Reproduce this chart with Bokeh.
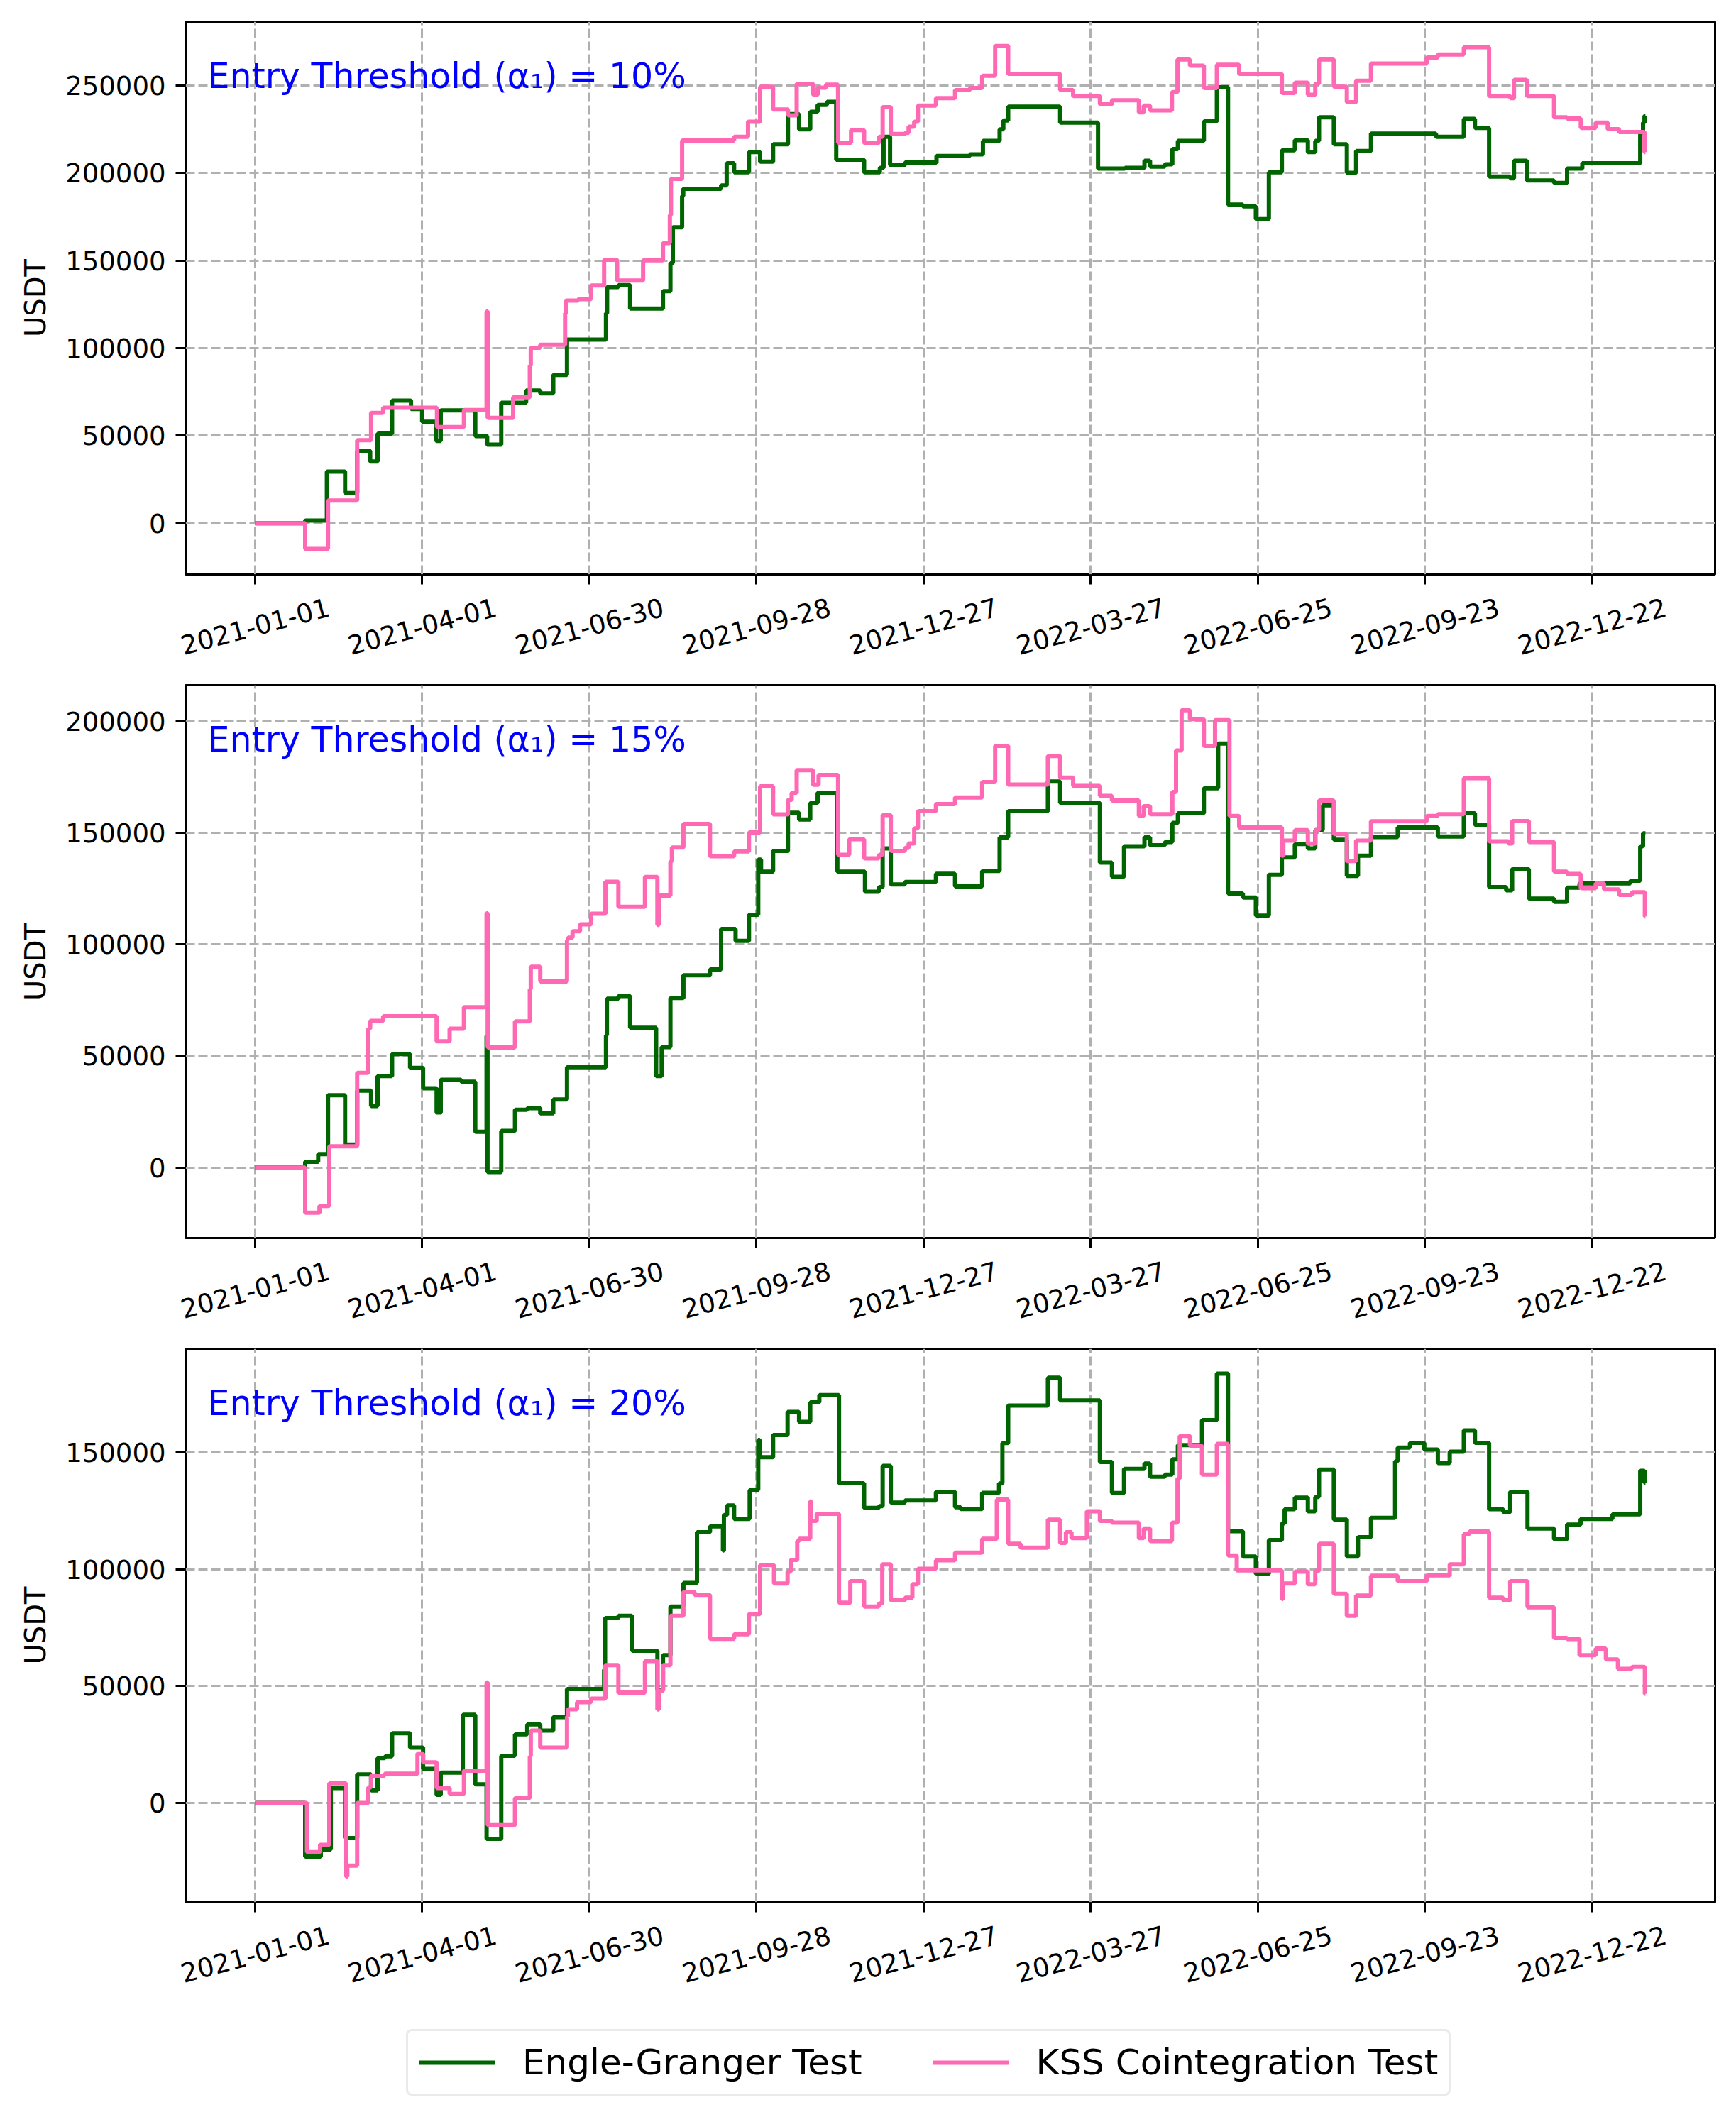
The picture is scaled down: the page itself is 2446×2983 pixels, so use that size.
import math
import numpy as np
import pandas as pd
from bokeh.plotting import figure
from bokeh.models import (Range1d, FixedTicker, SingleIntervalTicker, BasicTickFormatter,
                          CustomJSTickFormatter, Label, LinearAxis, Legend, LegendItem)
from bokeh.layouts import column
from bokeh.embed import file_html
from bokeh.resources import INLINE

# ---------------- data (day offset from START, USDT) ----------------
START = "2021-01-01"
TICK_LABELS = ["2021-01-01", "2021-04-01", "2021-06-30", "2021-09-28", "2021-12-27",
               "2022-03-27", "2022-06-25", "2022-09-23", "2022-12-22"]
THRESHOLDS = ["10%", "15%", "20%"]
SERIES_NAMES = ["Engle-Granger Test", "KSS Cointegration Test"]

EG_10 = [(0, 0), (27, 1500), (38.7, 29500), (48.5, 17200), (55, 41400), (62, 35300), (66, 51200),
         (73.8, 70000), (84, 65300), (90, 58000), (97.5, 47000), (100, 64400), (118.6, 49800),
         (125, 44900), (132.6, 68800), (146, 75800), (153.6, 74200), (160.6, 84700), (168, 104900),
         (189, 120000), (189.6, 134900), (195.7, 136000), (202, 122600), (219.7, 132600),
         (223.7, 148600), (225, 169000), (230, 187000), (230.6, 191000), (251, 193000),
         (254, 205600), (258, 200500), (266, 212000), (272, 206500), (279, 216500), (287, 233700),
         (293, 225000), (299, 235000), (303, 239000), (308, 240700), (313, 207700), (328, 200500),
         (336.5, 203000), (338.5, 220700), (342, 204500), (350, 206000), (367, 209800),
         (385, 210700), (392, 218400), (401, 225000), (403, 230000), (405.6, 238000),
         (433.6, 228800), (454, 202600), (468.5, 203000), (479, 207000), (482, 203700),
         (490, 205000), (494, 213700), (497, 218400), (511, 229500), (518, 249000), (524, 182000),
         (532, 181000), (539, 173700), (546, 200500), (553, 213000), (560, 218800), (567, 212000),
         (571, 218400), (573, 231900), (581, 216500), (588, 200200), (593, 212600), (601, 222600),
         (636, 220700), (651, 231000), (657, 225800), (664.6, 198000), (676, 197000),
         (678, 207000), (685, 195800), (699.6, 194400), (706.6, 202600), (714.8, 205600),
         (746, 223000), (747.5, 228800), (748.3, 232800), (748.8, 232800)]

KSS_10 = [(0, 0), (27, -14700), (39.3, 13000), (55, 47400), (62.5, 63000), (69, 66000), (98, 54900),
          (112.5, 64700), (124.7, 121000), (125.3, 60200), (139, 71900), (148, 90000),
          (148.5, 100200), (153.6, 101900), (167, 120000), (167.5, 127200), (174, 128000),
          (181, 135800), (188, 150500), (195, 138600), (209, 150200), (219.7, 160000),
          (223.4, 176000), (224, 196700), (230, 218600), (258, 220700), (265.5, 229300),
          (272, 249300), (279, 236300), (287, 233000), (291.7, 251000), (300.6, 244600),
          (303, 248800), (307.5, 250500), (314, 217400), (321, 224600), (328, 217200),
          (336, 220700), (338, 237700), (342.4, 222300), (350, 223000), (352, 226500),
          (355, 229300), (357, 238600), (366.7, 242800), (377, 247400), (385, 248600),
          (391.6, 255600), (398.6, 272600), (405.6, 256700), (433.6, 247400), (440.6, 244000),
          (455, 239300), (461.5, 241600), (476, 234700), (478.6, 238600), (482, 235800),
          (493.8, 246300), (496.8, 264900), (503.5, 261400), (511, 248600), (518, 261900),
          (530, 256700), (553, 245800), (560, 251600), (567, 244700), (571, 251000),
          (573, 264900), (581, 249300), (588, 240500), (593, 252800), (601, 262600),
          (631, 266000), (637, 267700), (651, 271900), (664.6, 244000), (676, 242800),
          (678, 253300), (685, 244000), (699.6, 231900), (706.6, 231200), (714, 225800),
          (722, 228800), (728.5, 225100), (734.6, 223500), (748.3, 212000), (748.8, 212000)]

EG_15 = [(0, 0), (27, 2600), (34, 6000), (39.3, 32400), (48.5, 10300), (55, 34500), (62.5, 27600),
         (66, 41000), (73.8, 50900), (83.5, 44700), (90.5, 35500), (97.8, 24700), (100, 39300),
         (111, 38500), (118.6, 16000), (124.7, 59000), (125.2, -2000), (132.6, 16400),
         (140, 25900), (146.6, 26600), (153.6, 24300), (160.6, 30500), (168, 45000),
         (189, 59300), (189.5, 75700), (195.7, 76900), (202, 62600), (216, 41000), (219, 54000),
         (223.7, 76000), (230.7, 86200), (245, 88800), (251, 106900), (258.8, 101600),
         (266, 113300), (271, 138000), (272.5, 132600), (279, 141900), (287, 159000),
         (293, 156000), (299, 163400), (303, 168000), (313.6, 132600), (328.5, 123600),
         (336, 125700), (338, 143000), (342.4, 126900), (350, 128000), (366.7, 131700),
         (377, 126000), (391.6, 132900), (401, 148000), (405.6, 159700), (427, 173000),
         (433.6, 163400), (455, 136700), (461.5, 130300), (468, 144000), (479, 148000),
         (482, 144500), (490, 145900), (494, 154500), (497, 158800), (511, 170000),
         (518.7, 190000), (524, 122800), (532, 121000), (539, 112900), (546, 131200),
         (553, 139000), (560, 145000), (567, 143000), (571, 151200), (575, 162400),
         (581, 146900), (588, 130700), (594, 139800), (601, 148100), (615.4, 152400),
         (637, 148400), (651, 158800), (657, 153600), (664.6, 125700), (673.8, 124300),
         (677, 133800), (686, 120500), (699.6, 119100), (706.6, 125500), (713.3, 127400),
         (740.7, 128600), (746, 144000), (747.5, 149800), (748.8, 149800)]

KSS_15 = [(0, 0), (27, -20200), (34.7, -17200), (40, 9500), (55, 42400), (61, 62200), (62, 65700),
          (69, 67800), (97.8, 56600), (104.8, 62200), (112.5, 71900), (124.7, 114000),
          (125.3, 53800), (140, 65500), (148, 80000), (148.5, 90000), (153.6, 83400),
          (168, 102000), (168.5, 103000), (171, 105900), (175, 109000), (181, 113800),
          (188.7, 128100), (195.7, 116900), (210, 130200), (216.7, 108800), (217.5, 121900),
          (223.7, 137200), (224.5, 143400), (230.7, 154000), (245, 139500), (258, 141700),
          (266, 150200), (272, 170900), (279, 158300), (287, 164800), (289, 168000),
          (291.7, 178100), (300.5, 171600), (303.5, 176000), (314, 140200), (320, 147200),
          (328, 138600), (336, 140200), (338, 158000), (342.4, 141900), (350, 143300),
          (352, 145300), (355, 152000), (357, 159700), (366.7, 162900), (377, 165900),
          (391.6, 172800), (398.6, 189000), (405.6, 171700), (427, 184500), (433.6, 174800),
          (440.6, 171000), (455, 166600), (461.5, 164500), (476, 157600), (478.6, 162000),
          (482, 158400), (494, 168300), (496, 186900), (499, 205000), (503.5, 201000),
          (511, 189000), (517, 200500), (524.8, 157600), (530, 152400), (553, 139800),
          (553.8, 146500), (560, 151200), (567, 145200), (571, 151200), (573, 164500),
          (581, 149500), (588, 137400), (593, 146500), (601, 155200), (631, 157600),
          (637, 158400), (651, 174500), (664.6, 146200), (675, 145300), (677, 155300),
          (686, 145900), (699.6, 132600), (706.6, 131600), (714, 125200), (722, 127400),
          (726.5, 124700), (734.6, 122200), (741.5, 123400), (748.5, 112600), (748.8, 112600)]

EG_20 = [(0, 0), (27, -22900), (35.4, -19900), (40.8, 6400), (48.5, -15000), (55, 12200),
         (62.5, 5400), (66, 19200), (70, 20000), (73.8, 29800), (83.5, 23700), (90.5, 14600),
         (97.8, 3500), (100, 13000), (111.9, 37700), (118.6, 8000), (124.7, -15300),
         (132.6, 20200), (140, 29400), (146.6, 33600), (153.6, 31000), (160.6, 36700),
         (168, 48700), (188, 57000), (188.5, 79100), (195.7, 80100), (203, 65100),
         (216.7, 48400), (219.7, 63200), (223.7, 84000), (230.7, 94100), (238, 115800),
         (245, 118300), (252, 108000), (252.5, 123200), (254.2, 127300), (258, 121500),
         (266.4, 133900), (271, 155300), (271.8, 147900), (279, 157400), (286.8, 167300),
         (293, 163000), (299, 171400), (303.9, 174500), (314.5, 136800), (328, 126200),
         (336, 127000), (338, 144200), (342.4, 128500), (350, 129400), (366.7, 133100),
         (377, 126500), (380, 125800), (391.6, 132700), (400.7, 136700), (402.5, 154000),
         (405.6, 170000), (427, 181900), (433.6, 172200), (455, 145900), (461.5, 132600),
         (468, 142900), (479, 145200), (482, 139600), (490, 140500), (494, 147000),
         (497, 153100), (510, 163800), (518, 183700), (524, 116300), (532, 105400), (539, 98000),
         (546, 112500), (553, 119600), (554.5, 125700), (560, 130600), (567, 124800),
         (571, 130900), (573, 142600), (581, 121200), (588, 105400), (594, 113700),
         (601, 122000), (614, 146200), (615.4, 152000), (622, 154100), (629.7, 151200),
         (637, 145400), (643.4, 150300), (651, 159400), (657, 154100), (664.6, 125700),
         (672.2, 124500), (676, 133100), (685.3, 117400), (699.6, 112800), (706.6, 119100),
         (713.9, 121500), (731, 123500), (746, 142100), (748.3, 137000), (748.8, 137000)]

KSS_20 = [(0, 0), (28, -21000), (35, -17900), (40, 8400), (49, -31400), (49.7, -26800), (55, 0),
          (61, 6700), (62.5, 11700), (69.8, 12500), (87.5, 21200), (90.5, 17400), (97.8, 6400),
          (104.8, 3900), (112.5, 13800), (124.7, 51500), (125.3, -9500), (140, 2100),
          (148, 20000), (148.5, 31000), (153.6, 23700), (168, 37000), (168.5, 40100),
          (173.4, 43100), (181, 44600), (188.7, 59000), (195.7, 47200), (210, 60700),
          (216.7, 40000), (217.5, 48000), (219.7, 59000), (223.7, 80100), (230.7, 90300),
          (236.7, 89000), (245, 70200), (258, 72200), (266, 80800), (272, 101800),
          (279.5, 93900), (286.8, 99000), (288.5, 104000), (292, 112000), (293, 113000),
          (299, 129000), (299.5, 120700), (302.5, 123700), (314.5, 85700), (320.6, 94900),
          (328, 84000), (336, 85400), (337.8, 102100), (342.4, 86700), (350, 87800),
          (354, 93600), (357, 100200), (366.7, 103800), (377, 107100), (391.6, 113000),
          (399.5, 129800), (405.6, 110900), (412.3, 109200), (427, 121200), (433.6, 111300),
          (436.7, 115800), (439.7, 113300), (448, 124800), (455, 120700), (461.5, 119900),
          (476, 113300), (478.6, 117400), (482, 112000), (493.8, 119900), (496.8, 138800),
          (498, 157000), (503.5, 152800), (510, 140500), (518, 153600), (524, 105900),
          (528.7, 99500), (553, 87300), (553.6, 93900), (560, 99000), (567, 93600),
          (571, 99300), (573, 110900), (581, 89500), (588, 80100), (593, 88700), (601, 97200),
          (615.4, 94900), (631, 97400), (643.4, 102100), (651, 115000), (654, 116100),
          (664.6, 87800), (672.2, 86700), (676, 94900), (685.3, 83700), (699.6, 70600),
          (706.6, 70100), (713.3, 63200), (722, 66000), (727.5, 61400), (734, 57400),
          (741.5, 58200), (748.5, 46700), (748.8, 46700)]

Y_RANGES = [(-29300, 286500), (-31600, 216200), (-42500, 194300)]
X_RANGE_DAYS = (-37.4, 786.3)

# ---------------- styling ----------------
FONT = "DejaVu Sans"
GREEN = "#006400"
PINK = "#ff69b4"
FRAME_W = 2155
BORDER_L, BORDER_R = 261, 22
LINE_W = 6
TICK_FONT = "37px"
LABEL_SHIFT_DAYS = 39.7      # rotated labels are right-anchored in Bokeh; shift to centre them
DAY_MS = 86400000.0

start_ts = pd.Timestamp(START)
epoch = pd.Timestamp("1970-01-01")


def to_dates(days):
    return start_ts + pd.to_timedelta(np.asarray(days, dtype=float), unit="D")


def make_panel(eg, kss, thr, yr, frame_h, border_t, border_b):
    p = figure(x_axis_type="datetime", frame_width=FRAME_W, frame_height=frame_h,
               min_border_left=BORDER_L, min_border_right=BORDER_R,
               min_border_top=border_t, min_border_bottom=border_b,
               x_range=Range1d(start_ts + pd.Timedelta(days=X_RANGE_DAYS[0]),
                               start_ts + pd.Timedelta(days=X_RANGE_DAYS[1])),
               y_range=Range1d(*yr), toolbar_location=None, output_backend="svg",
               background_fill_color="white", border_fill_color="white")
    for series, color in ((eg, GREEN), (kss, PINK)):
        d, v = zip(*series)
        p.step(to_dates(d), list(v), mode="after", line_color=color, line_width=LINE_W)

    tick_ms = [(pd.Timestamp(t) - epoch).total_seconds() * 1000.0 for t in TICK_LABELS]
    # axis carrying the tick marks
    p.xaxis.ticker = FixedTicker(ticks=tick_ms, minor_ticks=[])
    p.xaxis.formatter = CustomJSTickFormatter(code="return '';")
    p.xaxis.major_label_text_font_size = "1px"
    p.xaxis.major_label_standoff = 0
    # axis carrying the rotated tick labels
    shift_ms = LABEL_SHIFT_DAYS * DAY_MS
    lab_axis = LinearAxis(
        ticker=FixedTicker(ticks=[t + shift_ms for t in tick_ms], minor_ticks=[]),
        formatter=CustomJSTickFormatter(
            code=f"return new Date(Math.round((tick - {shift_ms}) / 86400000) * 86400000).toISOString().slice(0, 10);"),
        major_label_orientation=math.radians(15),
        major_tick_out=0, major_tick_in=0, minor_tick_out=0, minor_tick_in=0,
        axis_line_color=None, major_label_text_font=FONT, major_label_text_font_size=TICK_FONT,
        major_label_text_color="black", major_label_standoff=31)
    p.add_layout(lab_axis, "below")

    p.yaxis.ticker = SingleIntervalTicker(interval=50000, num_minor_ticks=0)
    p.yaxis.formatter = BasicTickFormatter(use_scientific=False)
    p.yaxis.axis_label = "USDT"
    p.yaxis.major_label_text_font = FONT
    p.yaxis.major_label_text_font_size = TICK_FONT
    p.yaxis.major_label_text_color = "black"
    p.yaxis.major_label_standoff = 14

    for ax in (p.xaxis[0], p.yaxis[0]):
        ax.axis_line_color = None
        ax.major_tick_out = 14
        ax.major_tick_in = 0
        ax.minor_tick_out = 0
        ax.minor_tick_in = 0
        ax.major_tick_line_width = 3
        ax.major_tick_line_color = "black"
    p.yaxis.axis_label_text_font = FONT
    p.yaxis.axis_label_text_font_size = "40px"
    p.yaxis.axis_label_text_font_style = "normal"
    p.yaxis.axis_label_text_color = "black"
    p.yaxis.axis_label_standoff = 16

    p.grid.grid_line_color = "#b0b0b0"
    p.grid.grid_line_width = 3
    p.grid.grid_line_dash = "13 5"
    p.outline_line_color = "black"
    p.outline_line_width = 3
    p.outline_line_alpha = 1.0

    p.add_layout(Label(x=31, y=frame_h - 77, x_units="screen", y_units="screen",
                       text=f"Entry Threshold (α₁) = {thr}", text_font=FONT,
                       text_font_size="49px", text_color="blue",
                       text_baseline="alphabetic", text_align="left"))
    return p


p1 = make_panel(EG_10, KSS_10, THRESHOLDS[0], Y_RANGES[0], 779, 30, 150)
p2 = make_panel(EG_15, KSS_15, THRESHOLDS[1], Y_RANGES[1], 779, 6, 150)
p3 = make_panel(EG_20, KSS_20, THRESHOLDS[2], Y_RANGES[2], 780, 6, 150)

lf = figure(width=BORDER_L + FRAME_W + BORDER_R, height=145, x_range=Range1d(0, 1),
            y_range=Range1d(0, 1), toolbar_location=None, output_backend="svg",
            min_border=0, x_axis_location=None, y_axis_location=None,
            outline_line_color=None, background_fill_color="white", border_fill_color="white")
lf.grid.visible = False
r1 = lf.line(x=[5, 6], y=[5, 5], line_color=GREEN, line_width=LINE_W)
r2 = lf.line(x=[5, 6], y=[5, 5], line_color=PINK, line_width=LINE_W)
legend = Legend(items=[LegendItem(label=SERIES_NAMES[0], renderers=[r1]),
                       LegendItem(label=SERIES_NAMES[1], renderers=[r2])],
                location=(311, 22), orientation="horizontal",
                label_text_font=FONT, label_text_font_size="50px", label_text_color="black",
                glyph_width=107, glyph_height=50, label_standoff=39, spacing=99,
                padding=15, margin=0, border_line_color="#d6d6d6", border_line_width=3,
                border_radius=8, background_fill_color="white", background_fill_alpha=1.0)
lf.add_layout(legend)

layout = column(p1, p2, p3, lf, spacing=0)
open("out.html", "w").write(file_html(layout, INLINE))
